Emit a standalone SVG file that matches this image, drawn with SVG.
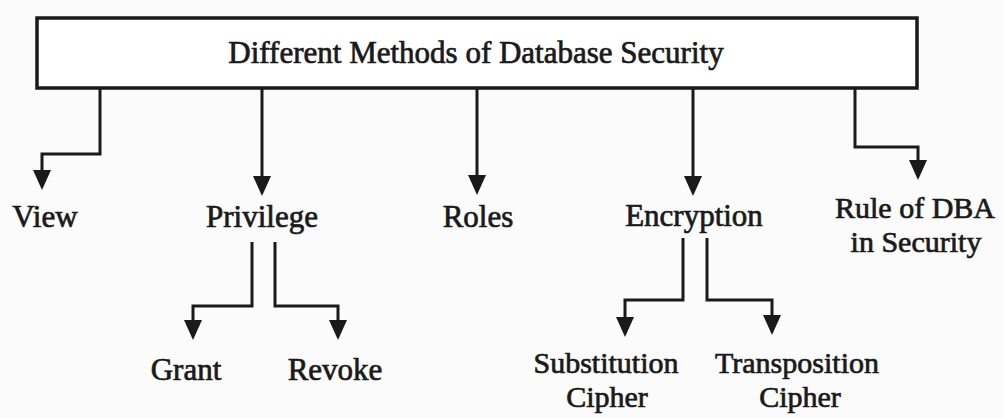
<svg xmlns="http://www.w3.org/2000/svg" width="1003" height="418" viewBox="0 0 1003 418">
<style>
  .t { font-family: "Liberation Serif", "Times New Roman", serif; font-size: 31px; fill: #1a1a1a; stroke: #1a1a1a; stroke-width: 0.7; text-anchor: middle; }
  .s { font-size: 30px; }
  .c { fill: none; stroke: #1a1a1a; stroke-width: 3; }
  .box { fill: #ffffff; stroke: #1a1a1a; stroke-width: 3.5; }
</style>
<defs>
  <marker id="ah" markerUnits="userSpaceOnUse" markerWidth="20" markerHeight="18" refX="14" refY="9" orient="auto">
    <path d="M0,0 L20,9 L0,18 z" fill="#1a1a1a"/>
  </marker>
</defs>
<rect width="1003" height="418" fill="#fbfbfb"/>
<g id="root">
  <rect class="box" x="37" y="18" width="880" height="70"/>
  <text class="t" x="476" y="63">Different Methods of Database Security</text>
</g>
<g id="connectors">
  <path class="c" d="M100,88 V154 H42 V184" marker-end="url(#ah)"/>
  <path class="c" d="M262,88 V190" marker-end="url(#ah)"/>
  <path class="c" d="M477,88 V189" marker-end="url(#ah)"/>
  <path class="c" d="M693,88 V190" marker-end="url(#ah)"/>
  <path class="c" d="M855,88 V147 H918 V174" marker-end="url(#ah)"/>
  <path class="c" d="M252,242 V306 H193 V334" marker-end="url(#ah)"/>
  <path class="c" d="M275,242 V306 H338 V334" marker-end="url(#ah)"/>
  <path class="c" d="M683,238 V300 H625 V331" marker-end="url(#ah)"/>
  <path class="c" d="M707,238 V300 H772 V329" marker-end="url(#ah)"/>
</g>
<g id="view"><text class="t" x="45" y="227">View</text></g>
<g id="privilege"><text class="t" x="262" y="227">Privilege</text></g>
<g id="roles"><text class="t" x="478" y="227">Roles</text></g>
<g id="encryption"><text class="t" x="694" y="226">Encryption</text></g>
<g id="rule-dba"><text class="t s" x="915" y="218">Rule of DBA</text><text class="t s" x="916" y="252">in Security</text></g>
<g id="grant"><text class="t" x="186" y="380">Grant</text></g>
<g id="revoke"><text class="t" x="335" y="380">Revoke</text></g>
<g id="substitution"><text class="t s" x="606" y="373">Substitution</text><text class="t s" x="607" y="407">Cipher</text></g>
<g id="transposition"><text class="t s" x="797" y="373">Transposition</text><text class="t s" x="800" y="407">Cipher</text></g>
</svg>
